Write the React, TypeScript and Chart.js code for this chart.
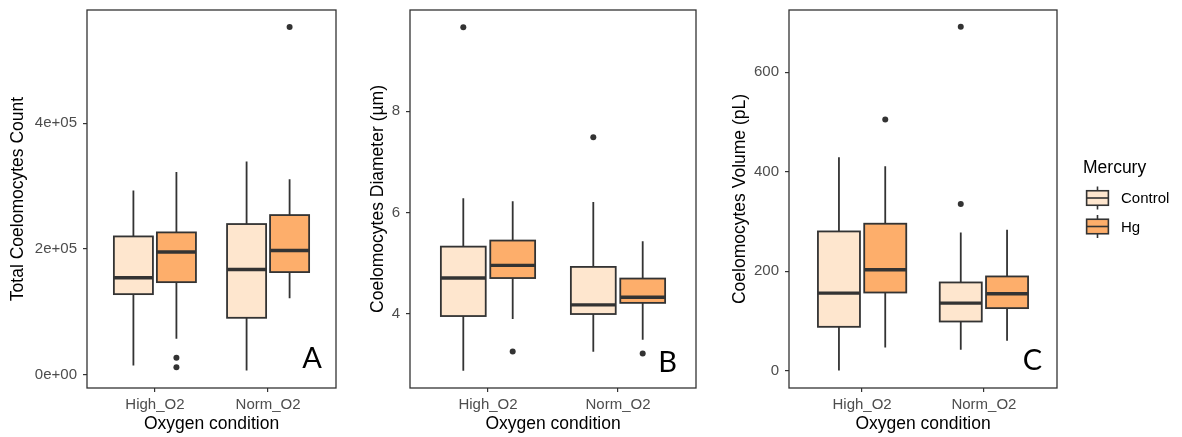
import { useEffect, useRef } from "react";
import { Chart, registerables } from "chart.js";

Chart.register(...registerables);

// ---------- data ----------
const categories = ["High_O2", "Norm_O2"];
const groupNames = ["Control", "Hg"];
const groupFills = ["#FEE6CE", "#FDAE6B"];

// each row: [lower whisker, Q1, median, Q3, upper whisker], one row per category
const countControl = [
  [14300, 128000, 154100, 219900, 293200],
  [6400, 90300, 167300, 239600, 339400],
];
const countHg = [
  [56900, 147100, 195000, 226300, 322400],
  [121600, 163100, 197600, 253900, 310800],
];
const countControlOutliers = [[], []];
const countHgOutliers = [[26600, 11700], [553500]];
const countTicks = [0, 200000, 400000];
const countTickLabels = ["0e+00", "2e+05", "4e+05"];

const diameterControl = [
  [2.88, 3.96, 4.71, 5.33, 6.285],
  [3.255, 4.0, 4.18, 4.93, 6.21],
];
const diameterHg = [
  [3.9, 4.71, 4.96, 5.45, 6.225],
  [3.49, 4.22, 4.33, 4.7, 5.435],
];
const diameterControlOutliers = [[9.66], [7.49]];
const diameterHgOutliers = [[3.26], [3.22]];
const diameterTicks = [4, 6, 8];
const diameterTickLabels = ["4", "6", "8"];

const volumeControl = [
  [0, 88, 155.8, 279.8, 428.8],
  [41.7, 98.7, 135.7, 177.2, 277.8],
];
const volumeHg = [
  [46.3, 157, 202.7, 295.3, 410.7],
  [59.8, 125.6, 154.4, 189.3, 283.3],
];
const volumeControlOutliers = [[], [335, 691.3]];
const volumeHgOutliers = [[504.7], []];
const volumeTicks = [0, 200, 400, 600];
const volumeTickLabels = ["0", "200", "400", "600"];

// ---------- styling ----------
const H = 437;
const FONT = "'Liberation Sans', Arial, sans-serif";
const INK = "#333333";
const TICK_TEXT = "#4d4d4d";
const DODGE = 0.19;
const BOX_W = 0.345;

type Panel = {
  left: number;
  width: number;
  yAxisWidth: number;
  padRight: number;
  yTitle: string;
  min: number;
  max: number;
  ticks: number[];
  tickLabels: string[];
  series: number[][][];
  outliers: number[][][];
  letter: string;
  letterDx: number;
  letterDy: number;
  legend: boolean;
};

const panels: Panel[] = [
  {
    left: 0, width: 345, yAxisWidth: 87, padRight: 9,
    yTitle: "Total Coelomocytes Count",
    min: -21500, max: 580500,
    ticks: countTicks, tickLabels: countTickLabels,
    series: [countControl, countHg],
    outliers: [countControlOutliers, countHgOutliers],
    letter: "A", letterDx: -14, letterDy: -20, legend: false,
  },
  {
    left: 360, width: 345, yAxisWidth: 50, padRight: 9,
    yTitle: "Coelomocytes Diameter (µm)",
    min: 2.54, max: 10.0,
    ticks: diameterTicks, tickLabels: diameterTickLabels,
    series: [diameterControl, diameterHg],
    outliers: [diameterControlOutliers, diameterHgOutliers],
    letter: "B", letterDx: -19, letterDy: -16, legend: false,
  },
  {
    left: 722, width: 460, yAxisWidth: 67, padRight: 125,
    yTitle: "Coelomocytes Volume (pL)",
    min: -35, max: 725,
    ticks: volumeTicks, tickLabels: volumeTickLabels,
    series: [volumeControl, volumeHg],
    outliers: [volumeControlOutliers, volumeHgOutliers],
    letter: "C", letterDx: -15, letterDy: -18, legend: true,
  },
];

function makePlugin(p: Panel) {
  return {
    id: "boxes",
    beforeDatasetsDraw(chart: any) {
      const { ctx, scales } = chart;
      const x = scales.x;
      const y = scales.y;
      ctx.save();
      p.series.forEach((rows, g) => {
        const off = g === 0 ? -DODGE : DODGE;
        rows.forEach((st, i) => {
          const [lo, q1, med, q3, hi] = st;
          const c = i + 1 + off;
          const cx = x.getPixelForValue(c);
          const l = x.getPixelForValue(c - BOX_W / 2);
          const r = x.getPixelForValue(c + BOX_W / 2);
          const yLo = y.getPixelForValue(lo);
          const yQ1 = y.getPixelForValue(q1);
          const yMed = y.getPixelForValue(med);
          const yQ3 = y.getPixelForValue(q3);
          const yHi = y.getPixelForValue(hi);
          ctx.strokeStyle = INK;
          ctx.lineWidth = 1.8;
          ctx.beginPath();
          ctx.moveTo(cx, yHi);
          ctx.lineTo(cx, yQ3);
          ctx.moveTo(cx, yQ1);
          ctx.lineTo(cx, yLo);
          ctx.stroke();
          ctx.fillStyle = groupFills[g];
          ctx.fillRect(l, yQ3, r - l, yQ1 - yQ3);
          ctx.strokeRect(l, yQ3, r - l, yQ1 - yQ3);
          ctx.lineWidth = 3.4;
          ctx.beginPath();
          ctx.moveTo(l, yMed);
          ctx.lineTo(r, yMed);
          ctx.stroke();
        });
      });
      ctx.restore();
    },
    afterDraw(chart: any) {
      const { ctx, chartArea } = chart;
      ctx.save();
      ctx.strokeStyle = INK;
      ctx.lineWidth = 1.3;
      ctx.strokeRect(
        chartArea.left,
        chartArea.top,
        chartArea.right - chartArea.left,
        chartArea.bottom - chartArea.top
      );
      ctx.fillStyle = "#000";
      ctx.font = "29px Lato, 'Open Sans', sans-serif";
      ctx.textAlign = "right";
      ctx.textBaseline = "alphabetic";
      ctx.fillText(p.letter, chartArea.right + p.letterDx, chartArea.bottom + p.letterDy);

      if (p.legend) {
        const cy = (chartArea.top + chartArea.bottom) / 2;
        const lx = chartArea.right;
        ctx.textAlign = "left";
        ctx.fillStyle = "#000";
        ctx.font = `17.5px ${FONT}`;
        ctx.fillText("Mercury", lx + 26, cy - 26);
        const K = 29;
        groupNames.forEach((name, g) => {
          const kcy = cy - 1 + g * 28.5;
          const kcx = lx + 40.5;
          ctx.strokeStyle = INK;
          ctx.lineWidth = 1.6;
          ctx.beginPath();
          ctx.moveTo(kcx, kcy - 0.4 * K);
          ctx.lineTo(kcx, kcy - 0.25 * K);
          ctx.moveTo(kcx, kcy + 0.25 * K);
          ctx.lineTo(kcx, kcy + 0.4 * K);
          ctx.stroke();
          ctx.fillStyle = groupFills[g];
          ctx.fillRect(kcx - 0.375 * K, kcy - 0.25 * K, 0.75 * K, 0.5 * K);
          ctx.strokeRect(kcx - 0.375 * K, kcy - 0.25 * K, 0.75 * K, 0.5 * K);
          ctx.beginPath();
          ctx.moveTo(kcx - 0.375 * K, kcy);
          ctx.lineTo(kcx + 0.375 * K, kcy);
          ctx.stroke();
          ctx.fillStyle = "#000";
          ctx.font = `15px ${FONT}`;
          ctx.textBaseline = "middle";
          ctx.fillText(name, lx + 64, kcy + 1);
          ctx.textBaseline = "alphabetic";
        });
      }
      ctx.restore();
    },
  };
}

function buildConfig(p: Panel): any {
  const datasets = p.outliers.map((perCat, g) => ({
    label: groupNames[g],
    data: perCat.flatMap((vals, i) =>
      vals.map((v) => ({ x: i + 1 + (g === 0 ? -DODGE : DODGE), y: v }))
    ),
    pointRadius: 3,
    pointBackgroundColor: INK,
    pointBorderWidth: 0,
    showLine: false,
  }));
  return {
    type: "scatter",
    data: { datasets },
    options: {
      animation: false,
      responsive: false,
      devicePixelRatio: 1,
      layout: { padding: { top: 10, right: p.padRight, left: 0, bottom: 0 } },
      plugins: { legend: { display: false }, tooltip: { enabled: false } },
      scales: {
        x: {
          type: "linear",
          min: 0.4,
          max: 2.6,
          afterBuildTicks: (s: any) => {
            s.ticks = categories.map((_, i) => ({ value: i + 1 }));
          },
          afterFit: (s: any) => {
            s.height = H - 388;
            s.paddingLeft = 0;
            s.paddingRight = 0;
          },
          ticks: {
            autoSkip: false,
            maxRotation: 0,
            padding: 4,
            color: TICK_TEXT,
            font: { family: FONT, size: 15 },
            callback: (_v: any, i: number) => categories[i],
          },
          grid: { drawOnChartArea: false, drawTicks: true, tickLength: 4, color: INK, lineWidth: 1.2 },
          border: { display: false },
          title: {
            display: true,
            text: "Oxygen condition",
            color: "#000",
            font: { family: FONT, size: 17.5 },
            padding: { top: 0, bottom: 2 },
          },
        },
        y: {
          type: "linear",
          min: p.min,
          max: p.max,
          afterBuildTicks: (s: any) => {
            s.ticks = p.ticks.map((v) => ({ value: v }));
          },
          afterFit: (s: any) => {
            s.width = p.yAxisWidth;
            s.paddingTop = 0;
            s.paddingBottom = 0;
          },
          ticks: {
            autoSkip: false,
            padding: 6,
            color: TICK_TEXT,
            font: { family: FONT, size: 15 },
            callback: (_v: any, i: number) => p.tickLabels[i],
          },
          grid: { drawOnChartArea: false, drawTicks: true, tickLength: 4, color: INK, lineWidth: 1.2 },
          border: { display: false },
          title: {
            display: true,
            text: p.yTitle,
            color: "#000",
            font: { family: FONT, size: 17.5 },
            padding: { top: 8, bottom: 0 },
          },
        },
      },
    },
    plugins: [makePlugin(p)],
  };
}

function PanelChart({ p }: { p: Panel }) {
  const ref = useRef<HTMLCanvasElement>(null);
  useEffect(() => {
    const chart = new Chart(ref.current as HTMLCanvasElement, buildConfig(p));
    return () => chart.destroy();
  }, [p]);
  return (
    <canvas
      ref={ref}
      width={p.width}
      height={H}
      style={{ position: "absolute", left: p.left, top: 0, width: p.width, height: H }}
    />
  );
}

export default function App() {
  return (
    <div
      style={{
        position: "absolute",
        left: 0,
        top: 0,
        width: 1182,
        height: H,
        background: "#fff",
        overflow: "hidden",
      }}
    >
      {panels.map((p, i) => (
        <PanelChart key={i} p={p} />
      ))}
    </div>
  );
}
